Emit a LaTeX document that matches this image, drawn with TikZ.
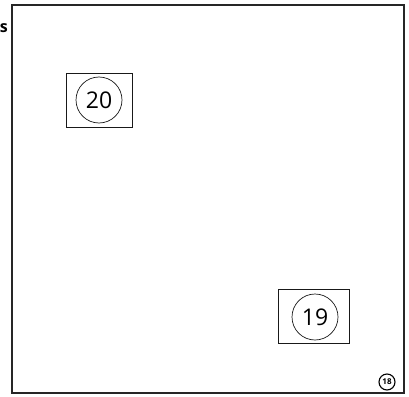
\documentclass[tikz,border=0pt]{standalone}
\usepackage{fontspec}
\setsansfont{Open Sans}
\usetikzlibrary{positioning}

\begin{document}
\begin{tikzpicture}[
  x=1pt, y=-1pt,
  every node/.style={font=\sffamily},
  frame/.style={draw=black!85, line width=1.4pt},
  cardbox/.style={draw=black!90, line width=1pt, rectangle,
                  inner sep=0pt},
  numcircle/.style={circle, draw=black!90, line width=0.7pt,
                    minimum size=46pt, inner sep=0pt,
                    font=\sffamily\fontsize{23}{23}\selectfont},
  pagemark/.style={circle, draw=black, line width=1.1pt,
                   minimum size=16pt, inner sep=0pt,
                   font=\sffamily\bfseries\fontsize{8}{8}\selectfont},
  cutlbl/.style={font=\sffamily\bfseries\fontsize{16}{16}\selectfont,
                 anchor=east, inner sep=0pt}
]
\useasboundingbox (0,0) rectangle (409,396);

% outer frame
\draw[frame] (12,5) rectangle (404,393);
\node[cutlbl] (cut) at (8,28) {s};

% cards
\node[cardbox, minimum width=66pt, minimum height=54pt]
  (boxA) at (99,100) {};
\node[numcircle] (numA) at (boxA.center) {20};

\node[cardbox, minimum width=71pt, minimum height=54pt]
  (boxB) at (313.5,316) {};
\node[numcircle] (numB) at (315,317) {19};

% page number
\node[pagemark] (page) at (387,382) {18};

\end{tikzpicture}
\end{document}
